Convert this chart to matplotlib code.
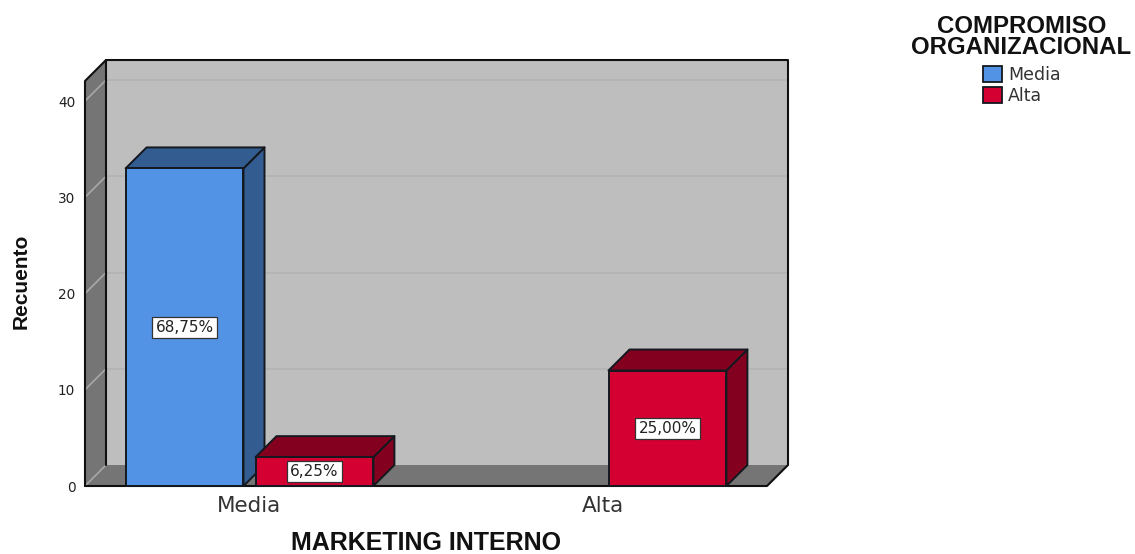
#!/usr/bin/python
# Recuento de MARKETING INTERNO por COMPROMISO ORGANIZACIONAL, barras con efecto 3D
import matplotlib
matplotlib.use('Agg')
import matplotlib.pyplot as plt
from matplotlib.patches import Patch

# Data
categories = ['Media', 'Alta']
series_names = ['Media', 'Alta']
media_counts = [33, 0]
alta_counts = [3, 12]
y_ticks = [0, 10, 20, 30, 40]

total = sum(media_counts) + sum(alta_counts)

# Colours
wall_back = '#bebebe'
wall_side = '#757575'
grid_back = '#b3b3b3'
grid_side = '#a8a8a8'
edge = '#14181f'
blue_colors = ('#5393e6', '#335c90', '#335c90')
red_colors = ('#d30031', '#84001f', '#84001f')

# Axis limits and depth of the fake 3D box
x_left, x_right = -0.466, 1.466
y_top = 42.08
depth_x = 0.0595
depth_y = 2.18
bar_w = 0.334
bar_gap = 0.034

plt.rcParams['font.family'] = ['DejaVu Sans']

fig = plt.figure(figsize=(11.35, 5.54), dpi=100)
ax = fig.add_axes([85 / 1135, 68 / 554, 682 / 1135, 405 / 554])
ax.set_xlim(x_left, x_right)
ax.set_ylim(0, y_top)


def poly(xs, ys, face, z, lw=1.4, ec=edge):
    ax.fill(xs, ys, facecolor=face, edgecolor=ec, linewidth=lw, zorder=z,
            clip_on=False, joinstyle='round')


def draw_bar(x0, value, colors, z):
    front, top, side = colors
    x1 = x0 + bar_w
    poly([x1, x1 + depth_x, x1 + depth_x, x1],
         [0, depth_y, value + depth_y, value], side, z)
    poly([x0, x0 + depth_x, x1 + depth_x, x1],
         [value, value + depth_y, value + depth_y, value], top, z)
    poly([x0, x1, x1, x0], [0, 0, value, value], front, z)
    # percentage label in the middle of the front face
    txt = ('%.2f%%' % (100.0 * value / total)).replace('.', ',')
    ax.text(x0 + bar_w / 2, value / 2.0, txt, ha='center', va='center',
            fontsize=11, color='#222222', zorder=z + 1,
            bbox=dict(boxstyle='square,pad=0.2', fc='white', ec='#333333', lw=0.9))


# Walls and floor
bx0, bx1 = x_left + depth_x, x_right + depth_x
poly([bx0, bx1, bx1, bx0], [depth_y, depth_y, y_top + depth_y, y_top + depth_y],
     wall_back, 1, lw=0)
poly([x_left, bx0, bx0, x_left], [0, depth_y, y_top + depth_y, y_top],
     wall_side, 1, lw=0)
poly([x_left, x_right, bx1, bx0], [0, 0, depth_y, depth_y], wall_side, 1, lw=0)

# Gridlines on back and left walls
for t in y_ticks:
    if t > 0:
        ax.plot([bx0, bx1], [t + depth_y, t + depth_y], color=grid_back, lw=1.3,
                zorder=2, clip_on=False)
    ax.plot([x_left, bx0], [t, t + depth_y], color=grid_side, lw=1.2, zorder=2,
            clip_on=False)

# Box outline
outline = dict(color='#101010', lw=1.5, zorder=3, clip_on=False, solid_capstyle='round')
ax.plot([x_left, x_left, bx0, bx1, bx1, x_right, x_left],
        [0, y_top, y_top + depth_y, y_top + depth_y, depth_y, 0, 0], **outline)
ax.plot([bx0, bx0], [depth_y, y_top + depth_y], **outline)

# Bars, side by side in each category
for i in range(len(categories)):
    if media_counts[i] > 0:
        draw_bar(i - bar_gap / 2 - bar_w, media_counts[i], blue_colors, 4)
    if alta_counts[i] > 0:
        draw_bar(i + bar_gap / 2, alta_counts[i], red_colors, 6)

# Axes
for s in ax.spines.values():
    s.set_visible(False)
ax.patch.set_visible(False)
ax.set_xticks(range(len(categories)))
ax.set_xticklabels(categories, fontsize=15.5, color='#333333')
ax.set_yticks(y_ticks)
ax.tick_params(axis='x', length=0, pad=7)
ax.tick_params(axis='y', length=0, pad=7, labelsize=9.8, labelcolor='#222222')
ax.set_xlabel('MARKETING INTERNO', fontsize=18, fontweight='bold',
              family='Liberation Sans', color='#111111', labelpad=11)
ax.set_ylabel('Recuento', fontsize=15, fontweight='bold',
              family='Liberation Sans', color='#111111', labelpad=20, y=0.505)

# Legend
handles = [Patch(facecolor=blue_colors[0], edgecolor=edge, lw=1.3),
           Patch(facecolor=red_colors[0], edgecolor=edge, lw=1.3)]
leg = fig.legend(handles, series_names, title='COMPROMISO\nORGANIZACIONAL',
                 loc='upper center', bbox_to_anchor=(1021.5 / 1135, 1 - 12 / 554),
                 frameon=False, fontsize=12.5, handlelength=1.1, handleheight=1.0,
                 handletextpad=0.35, labelspacing=0.18, borderaxespad=0, borderpad=0.2,
                 labelcolor='#333333')
leg._legend_box.sep = 5
title = leg.get_title()
title.set_fontproperties({'family': 'Liberation Sans', 'weight': 'bold', 'size': 17.3})
title.set_linespacing(0.87)
title.set_multialignment('center')
title.set_color('#111111')

fig.savefig('out.png', dpi=100)
